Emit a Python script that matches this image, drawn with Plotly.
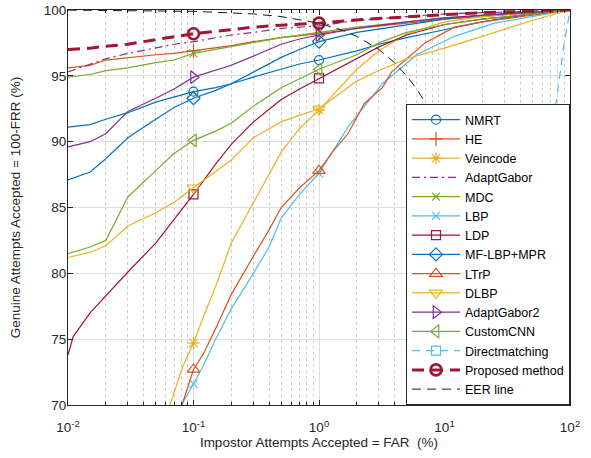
import plotly.graph_objects as go

# ROC curves: FAR (%) on a log axis vs. genuine acceptance (100 - FRR, %)

nmrt_far = [0.01, 0.015, 0.02, 0.03, 0.05, 0.07, 0.1, 0.15, 0.2, 0.3, 0.5, 0.7, 1, 2, 3, 5, 10, 20, 50, 100]
nmrt_gar = [91.1, 91.3, 91.7, 92.2, 93.0, 93.4, 93.8, 94.1, 94.4, 94.9, 95.5, 95.9, 96.2, 96.9, 97.4, 97.9, 98.5, 99.1, 99.7, 100]

he_far = [0.01, 0.015, 0.02, 0.03, 0.05, 0.07, 0.1, 0.2, 0.3, 0.5, 1, 2, 5, 10, 20, 50, 100]
he_gar = [95.6, 95.8, 96.2, 96.4, 96.6, 96.7, 96.9, 97.3, 97.6, 97.9, 98.2, 98.6, 99.0, 99.3, 99.5, 99.8, 100]

veincode_far = [0.05, 0.065, 0.082, 0.1, 0.12, 0.15, 0.2, 0.3, 0.4, 0.5, 0.7, 1, 2, 3, 5, 10, 20, 50, 100]
veincode_gar = [68.0, 70.0, 72.9, 74.7, 76.7, 79.0, 82.3, 85.4, 87.5, 89.2, 91.0, 92.4, 95.5, 96.9, 98.2, 99.1, 99.5, 99.85, 100]

adaptgabor_far = [0.01, 0.015, 0.02, 0.03, 0.05, 0.07, 0.1, 0.2, 0.3, 0.5, 1, 2, 5, 10, 20, 100]
adaptgabor_gar = [95.3, 95.9, 96.3, 96.7, 97.1, 97.4, 97.6, 98.1, 98.3, 98.6, 98.8, 99.2, 99.5, 99.7, 99.8, 100]

mdc_far = [0.01, 0.015, 0.02, 0.03, 0.05, 0.07, 0.1, 0.2, 0.3, 0.5, 1, 2, 5, 10, 20, 50, 100]
mdc_gar = [94.9, 95.1, 95.4, 95.6, 96.0, 96.2, 96.7, 97.2, 97.5, 97.9, 98.3, 98.7, 99.1, 99.4, 99.6, 99.85, 100]

lbp_far = [0.075, 0.08, 0.1, 0.12, 0.15, 0.2, 0.3, 0.4, 0.5, 0.7, 1, 1.7, 3.2, 6, 12, 25, 100]
lbp_gar = [69.0, 70.0, 71.6, 73.0, 75.0, 77.3, 80.0, 82.0, 84.2, 86.0, 87.6, 91.1, 94.4, 96.6, 98.0, 99.0, 100]

ldp_far = [0.01, 0.011, 0.015, 0.02, 0.03, 0.05, 0.07, 0.1, 0.15, 0.2, 0.3, 0.5, 0.7, 1, 2, 3, 5, 10, 20, 50, 100]
ldp_gar = [73.8, 75.2, 77.0, 78.3, 80.1, 82.3, 84.1, 86.0, 88.3, 89.8, 91.5, 93.2, 94.0, 94.8, 96.3, 97.2, 98.1, 98.9, 99.3, 99.7, 100]

mflbp_far = [0.01, 0.015, 0.02, 0.03, 0.05, 0.07, 0.1, 0.15, 0.2, 0.3, 0.5, 0.7, 1, 2, 5, 10, 20, 50, 100]
mflbp_gar = [87.1, 87.7, 88.7, 90.3, 91.7, 92.6, 93.3, 93.9, 94.4, 95.3, 96.4, 97.0, 97.6, 98.3, 98.9, 99.3, 99.6, 99.85, 100]

ltrp_far = [0.07, 0.081, 0.1, 0.12, 0.15, 0.2, 0.3, 0.4, 0.5, 0.7, 1, 1.3, 1.7, 2.3, 3.2, 3.8, 5, 7, 12, 20, 50, 100]
ltrp_gar = [68.5, 70.0, 72.7, 73.9, 75.8, 78.4, 81.3, 83.3, 85.0, 86.5, 87.8, 89.3, 90.6, 92.9, 94.1, 95.3, 96.3, 97.5, 98.7, 99.1, 99.6, 100]

dlbp_far = [0.01, 0.015, 0.02, 0.03, 0.05, 0.07, 0.1, 0.15, 0.2, 0.3, 0.5, 0.7, 1, 2, 3, 5, 10, 20, 50, 100]
dlbp_gar = [81.2, 81.6, 82.1, 83.6, 84.6, 85.4, 86.5, 87.7, 88.6, 90.3, 91.5, 92.0, 92.5, 94.6, 95.4, 96.3, 97.1, 98.0, 99.2, 100]

adaptgabor2_far = [0.01, 0.015, 0.02, 0.03, 0.05, 0.07, 0.1, 0.15, 0.2, 0.3, 0.5, 0.7, 1, 2, 5, 10, 20, 50, 100]
adaptgabor2_gar = [89.6, 90.0, 90.6, 92.3, 93.3, 94.0, 94.9, 95.4, 95.8, 96.5, 97.4, 97.8, 98.1, 98.6, 99.1, 99.4, 99.6, 99.85, 100]

customcnn_far = [0.01, 0.015, 0.02, 0.03, 0.05, 0.07, 0.1, 0.15, 0.2, 0.3, 0.5, 0.7, 1, 2, 3, 5, 10, 20, 50, 100]
customcnn_gar = [81.5, 82.0, 82.5, 85.8, 87.8, 89.1, 90.1, 90.8, 91.4, 92.7, 94.1, 94.8, 95.5, 96.6, 97.5, 98.3, 98.9, 99.3, 99.7, 100]

direct_far = [0.1, 1, 55, 76, 90, 100]
direct_gar = [20.0, 35.0, 65.0, 92.4, 97.5, 100]

proposed_far = [0.01, 0.015, 0.02, 0.03, 0.05, 0.07, 0.1, 0.2, 0.3, 0.5, 1, 2, 5, 10, 20, 50, 100]
proposed_gar = [97.0, 97.1, 97.25, 97.4, 97.75, 97.95, 98.2, 98.5, 98.7, 98.85, 99.0, 99.25, 99.5, 99.65, 99.8, 99.9, 100]

eer_far = [0.01, 0.1, 0.3, 0.5, 1, 1.5, 2, 3, 4, 5, 6, 7, 8, 10, 12, 15, 18, 22, 26, 30]
eer_gar = [99.99, 99.9, 99.7, 99.5, 99, 98.5, 98, 97, 96, 95, 94, 93, 92, 90, 88, 85, 82, 78, 74, 70]

marker_far = [0.1, 1]

x_tickvals = [0.01, 0.1, 1, 10, 100]
x_ticktext = ["10<sup>-2</sup>", "10<sup>-1</sup>", "10<sup>0</sup>", "10<sup>1</sup>", "10<sup>2</sup>"]
x_minor_tickvals = [m * d for d in (0.01, 0.1, 1, 10) for m in range(2, 10)]
y_tickvals = [70, 75, 80, 85, 90, 95, 100]

BLUE = "#0072BD"
ORANGE = "#D95319"
YELLOW = "#EDB120"
PURPLE = "#7E2F8E"
GREEN = "#77AC30"
LIGHTBLUE = "#4DBEEE"
DARKRED = "#A2142F"

series = [
    ("NMRT", nmrt_far, nmrt_gar, BLUE, "solid", 1.2, "circle-open", 9, 1.2),
    ("HE", he_far, he_gar, ORANGE, "solid", 1.2, "cross-thin-open", 10, 1.2),
    ("Veincode", veincode_far, veincode_gar, YELLOW, "solid", 1.2, "asterisk-open", 10, 1.2),
    ("AdaptGabor", adaptgabor_far, adaptgabor_gar, PURPLE, "8px,4px,2px,4px", 1.2, None, 0, 0),
    ("MDC", mdc_far, mdc_gar, GREEN, "solid", 1.2, "x-thin-open", 8, 1.2),
    ("LBP", lbp_far, lbp_gar, LIGHTBLUE, "solid", 1.2, "x-thin-open", 8, 1.2),
    ("LDP", ldp_far, ldp_gar, DARKRED, "solid", 1.2, "square-open", 9, 1.2),
    ("MF-LBP+MPR", mflbp_far, mflbp_gar, BLUE, "solid", 1.2, "diamond-open", 10, 1.2),
    ("LTrP", ltrp_far, ltrp_gar, ORANGE, "solid", 1.2, "triangle-up-open", 11, 1.2),
    ("DLBP", dlbp_far, dlbp_gar, YELLOW, "solid", 1.2, "triangle-down-open", 11, 1.2),
    ("AdaptGabor2", adaptgabor2_far, adaptgabor2_gar, PURPLE, "solid", 1.2, "triangle-right-open", 11, 1.2),
    ("CustomCNN", customcnn_far, customcnn_gar, GREEN, "solid", 1.2, "triangle-left-open", 11, 1.2),
    ("Directmatching", direct_far, direct_gar, LIGHTBLUE, "8px,6px", 1.2, "square-open", 9, 1.2),
    ("Proposed method", proposed_far, proposed_gar, DARKRED, "12px,7px", 3.0, "circle-open", 11, 2.6),
    ("EER line", eer_far, eer_gar, "#1a1a1a", "9px,6px", 1.0, None, 0, 0),
]

fig = go.Figure()

for name, far, gar, color, dash, lw, symbol, msize, mlw in series:
    line = dict(color=color, width=lw, dash=dash)
    # curve
    fig.add_trace(go.Scatter(x=far, y=gar, mode="lines", line=line,
                             showlegend=False, hoverinfo="skip"))
    marker = None
    if symbol:
        marker = dict(symbol=symbol, size=msize, color=color,
                      line=dict(color=color, width=mlw))
        mx = [f for f in far if f in marker_far]
        my = [g for f, g in zip(far, gar) if f in marker_far]
        fig.add_trace(go.Scatter(x=mx, y=my, mode="markers", marker=marker,
                                 showlegend=False, hoverinfo="skip"))
    # legend entry
    fig.add_trace(go.Scatter(x=[None], y=[None], name=name,
                             mode="lines+markers" if symbol else "lines",
                             line=line, marker=marker))

FONT = "Liberation Sans, Arial, sans-serif"

fig.update_layout(
    width=591, height=458,
    margin=dict(l=68, r=21, t=10, b=53),
    paper_bgcolor="white", plot_bgcolor="white",
    font=dict(family=FONT, size=13.5, color="#262626"),
    showlegend=True,
    legend=dict(
        x=1, y=0, xanchor="right", yanchor="bottom",
        bgcolor="white", bordercolor="#262626", borderwidth=1,
        font=dict(family=FONT, size=12.5, color="black"),
        itemwidth=48, tracegroupgap=0,
    ),
    xaxis=dict(
        type="log", range=[-2, 2], automargin=False,
        tickvals=x_tickvals, ticktext=x_ticktext,
        ticks="inside", ticklen=5, tickcolor="#262626",
        ticklabelstandoff=10,
        showline=True, linecolor="#262626", linewidth=1, mirror="ticks",
        showgrid=True, gridcolor="#dedede", gridwidth=1,
        minor=dict(tickmode="array", tickvals=x_minor_tickvals,
                   ticks="inside", ticklen=3, tickcolor="#262626",
                   showgrid=True, gridcolor="#cfcfcf", griddash="dot", gridwidth=1),
        zeroline=False,
        title=dict(text="Impostor Attempts Accepted = FAR  (%)", standoff=1,
                   font=dict(size=13.5, color="#262626")),
    ),
    yaxis=dict(
        range=[70, 100], automargin=False,
        tickvals=y_tickvals,
        ticks="inside", ticklen=5, tickcolor="#262626",
        ticklabelstandoff=-2,
        showline=True, linecolor="#262626", linewidth=1, mirror="ticks",
        showgrid=True, gridcolor="#dedede", gridwidth=1,
        zeroline=False,
        title=dict(text="Genuine Attempts Accepted = 100-FRR (%)", standoff=20,
                   font=dict(size=13.5, color="#262626")),
    ),
)

fig.write_html("out.html")
